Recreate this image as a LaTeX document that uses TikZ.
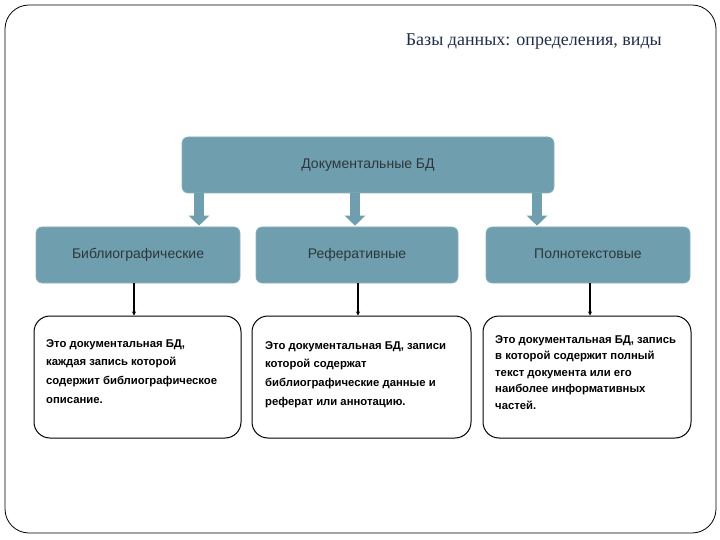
\documentclass[tikz,border=0pt]{standalone}
\usepackage{fontspec}
\setmainfont{Liberation Sans}
\newfontfamily\titlefont{Liberation Serif}
\usetikzlibrary{arrows.meta}
\definecolor{tealbox}{HTML}{6F9FAE}
\definecolor{titleblue}{HTML}{1F2D4A}
\definecolor{darktext}{HTML}{2E363B}
\tikzset{
  headbox/.style={draw=tealbox!80!white, line width=0.6pt, fill=tealbox, rounded corners=6pt, minimum height=56pt, text=darktext, font=\fontsize{14}{16}\selectfont, inner sep=0pt, text height=10pt, text depth=3pt},
  descbox/.style={draw=black, line width=1pt, fill=white, rounded corners=16pt, minimum height=122pt, inner sep=0pt},
  desctext/.style={font=\bfseries\fontsize{11.3}{18.7}\selectfont, align=left, anchor=north west, inner sep=0pt},
  blockarrow/.style={draw=tealbox, line width=10pt, -{Triangle[width=20pt,length=10pt]}},
  thinarrow/.style={draw=black, line width=1.2pt, -{Stealth[width=4pt,length=4pt]}}
}
\begin{document}
\begin{tikzpicture}[x=1pt,y=-1pt]
\useasboundingbox (0,0) rectangle (720,540);
\draw[line width=0.8pt, rounded corners=24pt] (5,5) rectangle (716,533);
\node[anchor=base east, text=titleblue, font=\titlefont\fontsize{18}{20}\selectfont, inner sep=0pt] (title) at (662,46) {Базы данных: определения, виды};

\node[headbox, minimum width=372pt] (doc) at (368,165) {Документальные БД};

\node[headbox, minimum width=204pt] (bib) at (138,255) {Библиографические};
\node[headbox, minimum width=202pt] (ref) at (357,255) {Реферативные};
\node[headbox, minimum width=204pt] (full) at (588,255) {Полнотекстовые};

\draw[blockarrow] (doc.south -| 199,0) -- ([yshift=1pt]bib.north -| 199,0);
\draw[blockarrow] (doc.south -| 355,0) -- ([yshift=1pt]ref.north -| 355,0);
\draw[blockarrow] (doc.south -| 537,0) -- ([yshift=1pt]full.north -| 537,0);

\node[descbox, minimum width=207pt] (d1) at (137.5,377) {};
\node[descbox, minimum width=219pt] (d2) at (361.5,377) {};
\node[descbox, minimum width=208pt] (d3) at (587,377) {};

\node[desctext] (t1) at (46,339) {Это документальная БД,\\каждая запись которой\\содержит библиографическое\\описание.};
\node[desctext] (t2) at (265,341) {Это документальная БД, записи\\которой содержат\\библиографические данные и\\реферат или аннотацию.};
\node[desctext, font=\bfseries\fontsize{11.3}{16.6}\selectfont] (t3) at (495,335) {Это документальная БД, запись\\в которой содержит полный\\текст документа или его\\наиболее информативных\\частей.};

\draw[thinarrow] (bib.south -| 134,0) -- (d1.north -| 134,0);
\draw[thinarrow] (ref.south -| 358,0) -- (d2.north -| 358,0);
\draw[thinarrow] (full.south -| 590,0) -- (d3.north -| 590,0);
\end{tikzpicture}
\end{document}
